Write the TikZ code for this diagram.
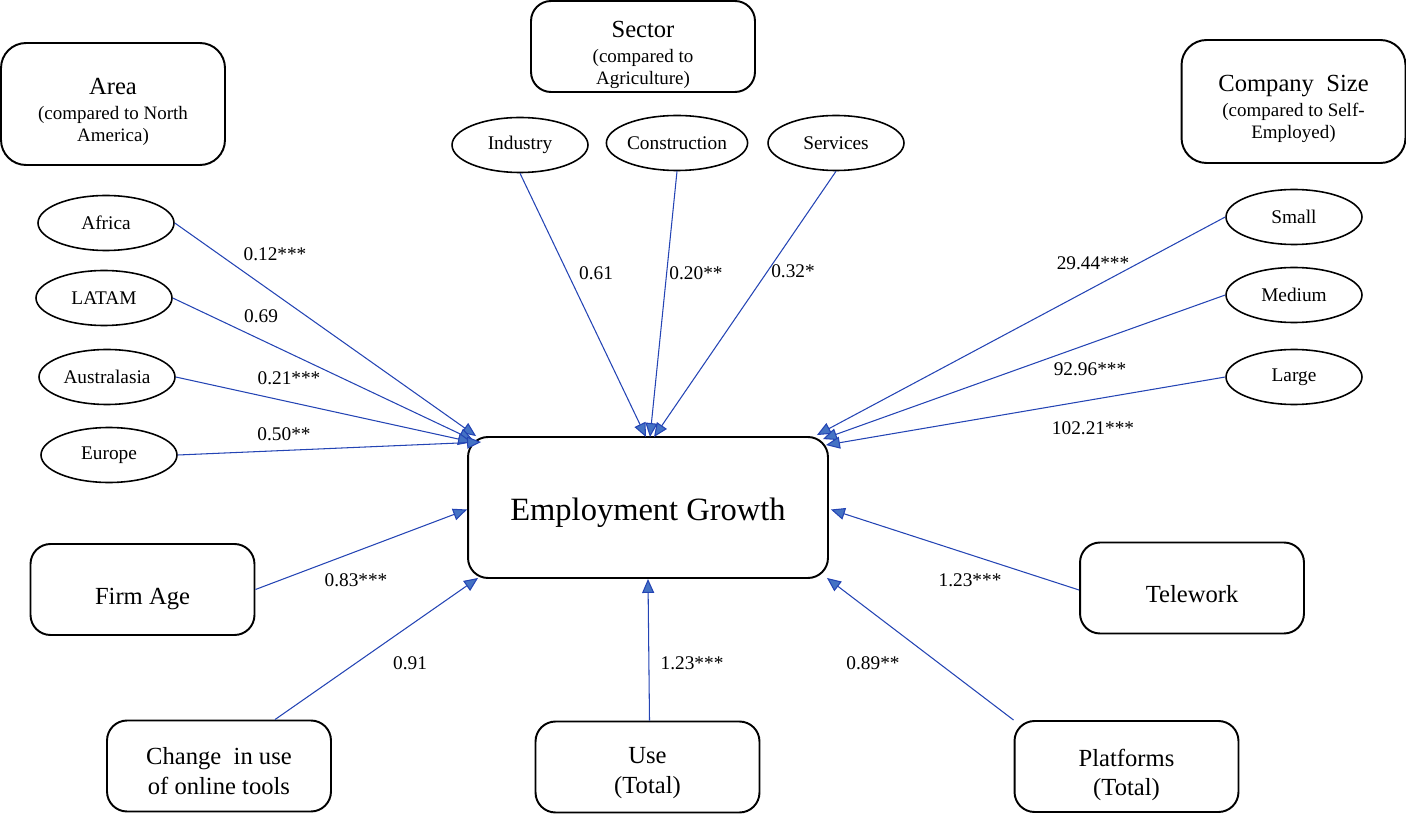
\documentclass[tikz,border=0pt]{standalone}
\usepackage{fontspec}
\setmainfont{Liberation Serif}
\usetikzlibrary{shapes.geometric,arrows.meta,calc}
\definecolor{lineblue}{HTML}{2444B4}
\definecolor{tipblue}{HTML}{4472C4}
\begin{document}
\begin{tikzpicture}[x=0.02cm,y=-0.02cm,
  box/.style={draw=black,line width=1.1pt,rounded corners=0.4cm,inner sep=0pt,
    minimum width=4.48cm,minimum height=1.82cm},
  btext/.style={align=center,inner sep=0pt,font=\fontsize{14}{17}\selectfont},
  htext/.style={align=center,inner sep=0pt,font=\fontsize{10.8}{12.4}\selectfont},
  oval/.style={draw=black,line width=0.9pt,ellipse,inner sep=0pt,minimum width=2.72cm,minimum height=1.1cm,
    font=\fontsize{11}{13}\selectfont},
  conn/.style={draw=lineblue,line width=0.6pt,-{Triangle[length=0.28cm,width=0.24cm,fill=tipblue]}},
  lab/.style={font=\fontsize{11}{13}\selectfont,inner sep=0pt}]
\useasboundingbox (0,0) rectangle (1406,817);
% main
\node[box,minimum width=7.2cm,minimum height=2.82cm] (main) at (648,507.5) {};
\node[btext,font=\fontsize{18.5}{22}\selectfont] (maint) at (648,513) {Employment Growth};
% header boxes
\node[box] (sector) at (643,46.5) {};
\node[htext] (sectort) at (643,55) {{\fontsize{14}{14}\selectfont Sector}\\[2pt](compared to\\Agriculture)};
\node[box,minimum height=2.44cm,rounded corners=0.5cm] (area) at (113,104) {};
\node[htext] (areat) at (113,112) {{\fontsize{14}{14}\selectfont Area}\\[2pt](compared to North\\America)};
\node[box,minimum height=2.46cm,rounded corners=0.5cm] (comp) at (1293.5,101.5) {};
\node[htext] (compt) at (1293.5,109) {{\fontsize{14}{14}\selectfont Company\ \ Size}\\[2pt](compared to Self-\\Employed)};
% bottom boxes
\node[box] (firm) at (142.5,589.5) {};
\node[btext] (firmt) at (142.5,599) {Firm Age};
\node[box] (change) at (219,766) {};
\node[btext] (changet) at (219,771) {Change\ \ in use\\of online tools};
\node[box] (use) at (647.5,767) {};
\node[btext] (uset) at (647.5,773) {Use\\(Total)};
\node[box] (plat) at (1126.5,766.5) {};
\node[btext] (platt) at (1126.5,775) {Platforms\\(Total)};
\node[box] (tele) at (1192,588) {};
\node[btext] (telet) at (1192,594) {Telework};
% ellipses
\node[oval] (ind) at (520,145) {Industry};
\node[oval] (con) at (677,143) {Construction};
\node[oval] (ser) at (836,143) {Services};
\node[oval] (afr) at (106,223) {Africa};
\node[oval] (lat) at (104,298) {LATAM};
\node[oval] (aus) at (107,377) {Australasia};
\node[oval] (eur) at (109,455) {Europe};
\node[oval] (sma) at (1294,217) {Small};
\node[oval] (med) at (1294,295) {Medium};
\node[oval] (lar) at (1294,377) {Large};
% connectors
\draw[conn] (afr.east) -- ([shift={(9,0)}]main.north west);
\draw[conn] (lat.east) -- ([shift={(6,4)}]main.north west);
\draw[conn] (aus.east) -- ([shift={(5,6)}]main.north west);
\draw[conn] (eur.east) -- ([shift={(14,6)}]main.north west);
\draw[conn] (ind.south) -- ([shift={(-2,1)}]main.north);
\draw[conn] (con.south) -- ([shift={(2,1)}]main.north);
\draw[conn] (ser.south) -- ([shift={(6,1)}]main.north);
\draw[conn] (sma.west) -- ([shift={(-12,-1)}]main.north east);
\draw[conn] (med.west) -- ([shift={(-6,3)}]main.north east);
\draw[conn] (lar.west) -- ([shift={(-3,9)}]main.north east);
\draw[conn] (firm.east) -- ([shift={(0,2)}]main.west);
\draw[conn] ([shift={(56,0)}]change.north) -- ([shift={(11,-1)}]main.south west);
\draw[conn] ([shift={(2,0)}]use.north) -- (main.south);
\draw[conn] (plat.north west) -- ([shift={(-2,-1)}]main.south east);
\draw[conn] ([shift={(0,2)}]tele.west) -- ([shift={(2,2)}]main.east);
% labels
\node[lab] (l1) at (275,254) {0.12***};
\node[lab] (l2) at (261,316) {0.69};
\node[lab] (l3) at (289,378) {0.21***};
\node[lab] (l4) at (284,434) {0.50**};
\node[lab] (l5) at (596,273) {0.61};
\node[lab] (l6) at (696,273) {0.20**};
\node[lab] (l7) at (793,271) {0.32*};
\node[lab] (l8) at (1093,263) {29.44***};
\node[lab] (l9) at (1090,369) {92.96***};
\node[lab] (l10) at (1093,428) {102.21***};
\node[lab] (l11) at (356,580) {0.83***};
\node[lab] (l12) at (410,663) {0.91};
\node[lab] (l13) at (692,663) {1.23***};
\node[lab] (l14) at (873,663) {0.89**};
\node[lab] (l15) at (970,580) {1.23***};
\end{tikzpicture}
\end{document}
